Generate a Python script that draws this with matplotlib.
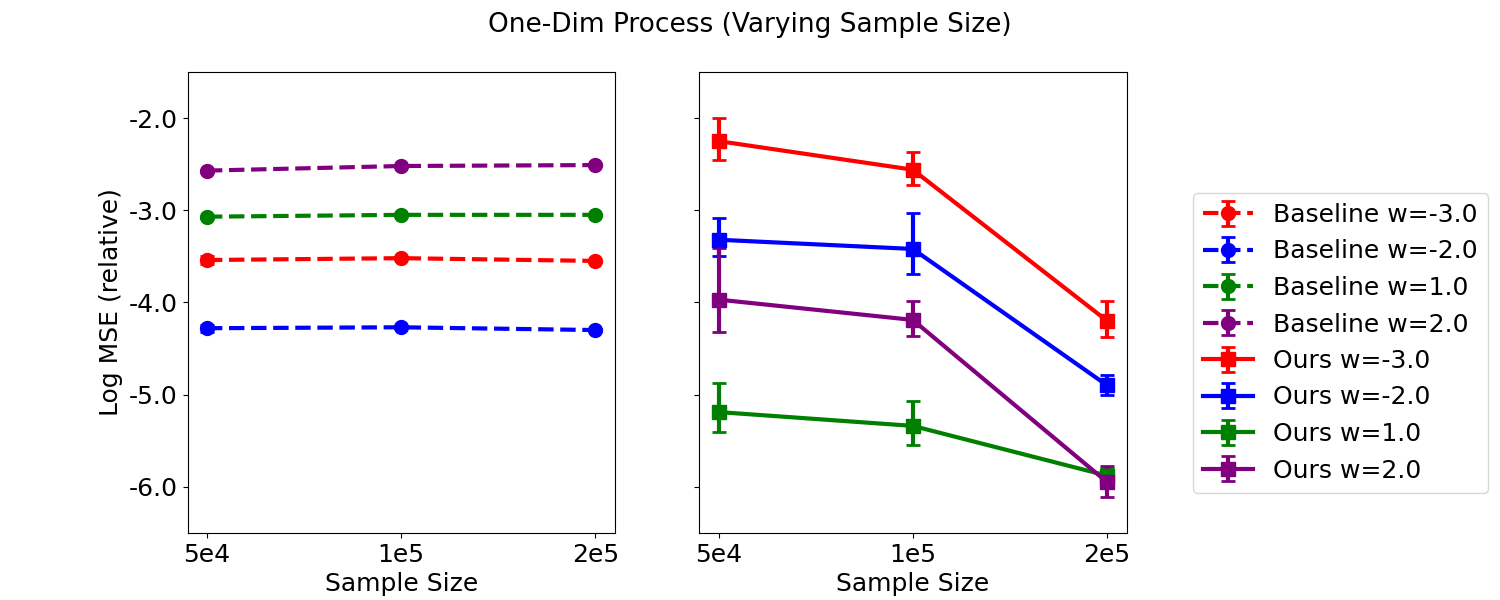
import numpy as np
import matplotlib
matplotlib.use('Agg')
import matplotlib.pyplot as plt

plt.rcParams['font.size'] = 18

sample_sizes = ['5e4', '1e5', '2e5']
weights = [-3.0, -2.0, 1.0, 2.0]
colors = ['red', 'blue', 'green', 'purple']

# baseline log MSE, one row per weight
baseline_mean = [
    [-3.54, -3.52, -3.55],
    [-4.28, -4.27, -4.30],
    [-3.07, -3.05, -3.05],
    [-2.57, -2.52, -2.51],
]
baseline_err = [
    [0.04, 0.01, 0.01],
    [0.04, 0.01, 0.01],
    [0.01, 0.01, 0.01],
    [0.01, 0.01, 0.01],
]

# ours log MSE with lower / upper error
ours_mean = [
    [-2.25, -2.56, -4.20],
    [-3.32, -3.42, -4.90],
    [-5.19, -5.34, -5.88],
    [-3.97, -4.19, -5.95],
]
ours_err_low = [
    [0.20, 0.17, 0.18],
    [0.18, 0.27, 0.10],
    [0.22, 0.21, 0.08],
    [0.35, 0.17, 0.16],
]
ours_err_high = [
    [0.25, 0.19, 0.21],
    [0.24, 0.39, 0.11],
    [0.32, 0.27, 0.08],
    [0.56, 0.20, 0.18],
]

x = np.arange(len(sample_sizes))

fig, (ax1, ax2) = plt.subplots(1, 2, sharey=True)
fig.set_size_inches(15, 6, forward=True)
fig.subplots_adjust(left=0.125, right=0.751, top=0.88, bottom=0.112, wspace=0.197)

for i, w in enumerate(weights):
    ax1.errorbar(x, baseline_mean[i], yerr=baseline_err[i], fmt='--o',
                 color=colors[i], lw=3, ms=10, capsize=5, capthick=2,
                 label='Baseline w={}'.format(w))

for i, w in enumerate(weights):
    ax2.errorbar(x, ours_mean[i], yerr=[ours_err_low[i], ours_err_high[i]],
                 fmt='-s', color=colors[i], lw=3, ms=10, capsize=5, capthick=2,
                 label='Ours w={}'.format(w))

for ax in [ax1, ax2]:
    ax.set_xticks(x)
    ax.set_xticklabels(sample_sizes)
    ax.set_xlabel('Sample Size')

ax1.set_ylim(-6.5, -1.5)
ax1.set_yticks([-6, -5, -4, -3, -2])
ax1.set_yticklabels(['-6.0', '-5.0', '-4.0', '-3.0', '-2.0'])
ax1.set_ylabel('Log MSE (relative)')

h1, l1 = ax1.get_legend_handles_labels()
h2, l2 = ax2.get_legend_handles_labels()
fig.legend(h1 + h2, l1 + l2, loc='upper left',
           bbox_to_anchor=(1193 / 1500, 1 - 193 / 600), borderaxespad=0)

fig.suptitle('One-Dim Process (Varying Sample Size)', fontsize=19)
plt.savefig('out.png', dpi=100)
